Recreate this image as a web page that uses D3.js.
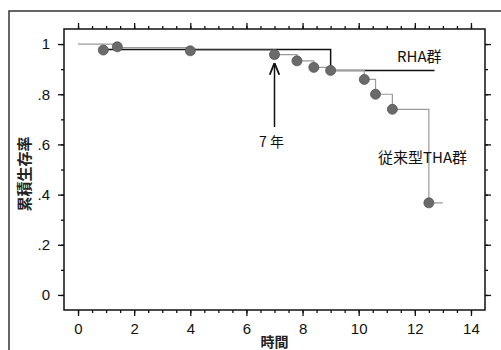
<!DOCTYPE html>
<html>
<head>
<meta charset="utf-8">
<script src="https://cdn.jsdelivr.net/npm/d3@7"></script>
<style>
  body { margin: 0; background: white; }
  svg { display: block; }
</style>
</head>
<body>
<main></main>
<script>
// survival steps
const thaTimes = [0, 1.4, 4, 7, 7.8, 8.4, 9, 10.2, 10.6, 11.2, 12.5, 13.0]
const thaSurv = [1.0, 0.986, 0.975, 0.958, 0.933, 0.907, 0.895, 0.859, 0.80, 0.74, 0.367, 0.367]

const rhaTimes = [0.9, 9, 12.7]
const rhaSurv = [0.978, 0.895, 0.895]

const dotTimes = [0.9, 1.4, 4, 7, 7.8, 8.4, 9, 10.2, 10.6, 11.2, 12.5]
const dotSurv = [0.976, 0.989, 0.973, 0.958, 0.933, 0.907, 0.895, 0.859, 0.80, 0.74, 0.367]

const xTicks = [0, 2, 4, 6, 8, 10, 12, 14]
const yTicks = [0, 0.2, 0.4, 0.6, 0.8, 1]

const svgWidth = 501
const svgHeight = 350

const plotLeft = 64, plotRight = 485, plotTop = 29, plotBottom = 310

let svg = d3.select("main")
    .append("svg")
    .attr("width", svgWidth)
    .attr("height", svgHeight)
    .style("font-family", "'Liberation Sans', Arial, sans-serif")

// outer frame of the figure
svg.append("rect")
    .attr("x", 9)
    .attr("y", 11)
    .attr("width", 520)
    .attr("height", 400)
    .attr("fill", "none")
    .attr("stroke", "#333")
    .attr("stroke-width", 1.5)

let xScale = d3.scaleLinear()
    .domain([-0.5, 14.5])
    .range([plotLeft, plotRight])

let yScale = d3.scaleLinear()
    .domain([-0.06, 1.06])
    .range([plotBottom, plotTop])

const xMinor = d3.range(0, 14.01, 0.5)
const yMinor = d3.range(0, 1.01, 0.1)

function styleAxis(g) {
    g.select(".domain").remove()
    g.selectAll("line").attr("stroke", "#111").attr("stroke-width", 1.3)
    g.selectAll("text").attr("fill", "#111").style("font-size", "15px")
}

// minor ticks on all four sides
svg.append("g").attr("transform", `translate(0, ${plotBottom})`)
    .call(d3.axisBottom(xScale).tickValues(xMinor).tickSize(3).tickFormat(""))
    .call(styleAxis)
svg.append("g").attr("transform", `translate(0, ${plotTop})`)
    .call(d3.axisTop(xScale).tickValues(xMinor).tickSize(3).tickFormat(""))
    .call(styleAxis)
svg.append("g").attr("transform", `translate(${plotLeft}, 0)`)
    .call(d3.axisLeft(yScale).tickValues(yMinor).tickSize(3).tickFormat(""))
    .call(styleAxis)
svg.append("g").attr("transform", `translate(${plotRight}, 0)`)
    .call(d3.axisRight(yScale).tickValues(yMinor).tickSize(3).tickFormat(""))
    .call(styleAxis)

// major ticks with labels
svg.append("g").attr("transform", `translate(0, ${plotBottom})`)
    .call(d3.axisBottom(xScale).tickValues(xTicks).tickSize(6).tickPadding(7))
    .call(styleAxis)
svg.append("g").attr("transform", `translate(0, ${plotTop})`)
    .call(d3.axisTop(xScale).tickValues(xTicks).tickSize(6).tickFormat(""))
    .call(styleAxis)
svg.append("g").attr("transform", `translate(${plotLeft}, 0)`)
    .call(d3.axisLeft(yScale).tickValues(yTicks).tickSize(6).tickPadding(8)
        .tickFormat(d => d == 0 ? "0" : d == 1 ? "1" : "." + Math.round(d * 10)))
    .call(styleAxis)
svg.append("g").attr("transform", `translate(${plotRight}, 0)`)
    .call(d3.axisRight(yScale).tickValues(yTicks).tickSize(6).tickFormat(""))
    .call(styleAxis)

// plot box
svg.append("rect")
    .attr("x", plotLeft)
    .attr("y", plotTop)
    .attr("width", plotRight - plotLeft)
    .attr("height", plotBottom - plotTop)
    .attr("fill", "none")
    .attr("stroke", "#111")
    .attr("stroke-width", 1.5)

let step = d3.line()
    .x(d => xScale(d[0]))
    .y(d => yScale(d[1]))
    .curve(d3.curveStepAfter)

svg.append("path")
    .datum(rhaTimes.map((t, i) => [t, rhaSurv[i]]))
    .attr("d", step)
    .attr("fill", "none")
    .attr("stroke", "#111")
    .attr("stroke-width", 1.5)

svg.append("path")
    .datum(thaTimes.map((t, i) => [t, thaSurv[i]]))
    .attr("d", step)
    .attr("fill", "none")
    .attr("stroke", "#9a9a9a")
    .attr("stroke-width", 1.2)

svg.selectAll("circle")
    .data(dotTimes.map((t, i) => [t, dotSurv[i]]))
    .enter()
    .append("circle")
    .attr("cx", d => xScale(d[0]))
    .attr("cy", d => yScale(d[1]))
    .attr("r", 5)
    .attr("fill", "#6a6a6a")
    .attr("stroke", "#555")
    .attr("stroke-width", 0.8)

// arrow to 7 years
svg.append("defs").append("marker")
    .attr("id", "head")
    .attr("viewBox", "0 0 10 10")
    .attr("refX", 9).attr("refY", 5)
    .attr("markerWidth", 8).attr("markerHeight", 8)
    .attr("orient", "auto")
    .append("path")
    .attr("d", "M0,1 L10,5 L0,9")
    .attr("fill", "none")
    .attr("stroke", "#111")
    .attr("stroke-width", 1.5)

svg.append("line")
    .attr("x1", xScale(7)).attr("x2", xScale(7))
    .attr("y1", 127).attr("y2", 64)
    .attr("stroke", "#111")
    .attr("stroke-width", 1.5)
    .attr("marker-end", "url(#head)")

const cjk = "'Noto Sans CJK JP', 'Liberation Sans', sans-serif"

svg.append("text")
    .attr("x", 259).attr("y", 147)
    .style("font-family", cjk).style("font-size", "14px")
    .attr("fill", "#111")
    .text("7 年")

svg.append("text")
    .attr("x", 397).attr("y", 62)
    .style("font-family", cjk).style("font-size", "15px")
    .attr("fill", "#111")
    .text("RHA群")

svg.append("text")
    .attr("x", 378).attr("y", 163)
    .style("font-family", cjk).style("font-size", "15px")
    .attr("fill", "#111")
    .text("従来型THA群")

svg.append("text")
    .attr("transform", "translate(30, 174) rotate(-90)")
    .style("text-anchor", "middle")
    .style("font-family", cjk).style("font-size", "15px").style("font-weight", "bold")
    .attr("fill", "#222")
    .text("累積生存率")

svg.append("text")
    .attr("x", xScale(7)).attr("y", 347)
    .style("text-anchor", "middle")
    .style("font-family", cjk).style("font-size", "14px").style("font-weight", "bold")
    .attr("fill", "#222")
    .text("時間")
</script>
</body>
</html>
